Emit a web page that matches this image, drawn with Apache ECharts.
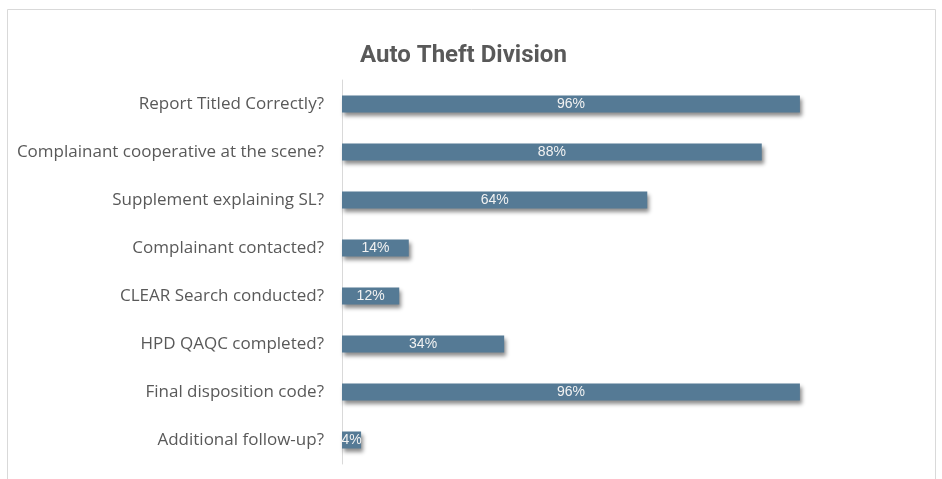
<!DOCTYPE html>
<html>
<head>
<meta charset="utf-8">
<script src="https://cdn.jsdelivr.net/npm/echarts@6/dist/echarts.min.js"></script>
<style>
  html, body { margin: 0; padding: 0; background: #ffffff; }
  #chart { width: 942px; height: 479px; }
</style>
</head>
<body>
<div id="chart"></div>
<script>
// Audit checklist questions, top to bottom
const categories = [
  'Report Titled Correctly?',
  'Complainant cooperative at the scene?',
  'Supplement explaining SL?',
  'Complainant contacted?',
  'CLEAR Search conducted?',
  'HPD QAQC completed?',
  'Final disposition code?',
  'Additional follow-up?'
];
// Share of reports meeting each item
const rates = [0.96, 0.88, 0.64, 0.14, 0.12, 0.34, 0.96, 0.04];

const chart = echarts.init(document.getElementById('chart'), null, { renderer: 'canvas' });

chart.setOption({
  backgroundColor: '#ffffff',
  animation: false,
  title: {
    text: 'Auto Theft Division',
    left: 355,
    top: 39,
    textStyle: {
      fontFamily: 'Roboto',
      fontWeight: 'bold',
      fontSize: 24,
      color: '#595959'
    }
  },
  graphic: [{
    type: 'rect',
    shape: { x: 7.5, y: 9.5, width: 928, height: 490 },
    style: { fill: 'none', stroke: '#d9d9d9', lineWidth: 1 },
    silent: true,
    z: -1
  }],
  grid: { left: 342, right: 123, top: 80, bottom: 15, containLabel: false },
  xAxis: {
    type: 'value',
    min: 0,
    max: 1,
    show: false
  },
  yAxis: {
    type: 'category',
    data: categories,
    inverse: true,
    axisLine: { show: true, lineStyle: { color: '#d9d9d9', width: 1 } },
    axisTick: { show: false },
    axisLabel: {
      margin: 18,
      fontFamily: 'Open Sans',
      fontSize: 17,
      color: '#595959'
    }
  },
  series: [{
    type: 'bar',
    data: rates,
    barWidth: 17,
    itemStyle: {
      color: '#557A95',
      shadowColor: 'rgba(0,0,0,0.45)',
      shadowBlur: 4,
      shadowOffsetX: 2,
      shadowOffsetY: 3
    },
    label: {
      show: true,
      position: 'inside',
      formatter: p => Math.round(p.value * 100) + '%',
      fontFamily: 'Liberation Sans',
      fontSize: 14,
      color: '#f2f2f2'
    }
  }]
});
</script>
</body>
</html>
